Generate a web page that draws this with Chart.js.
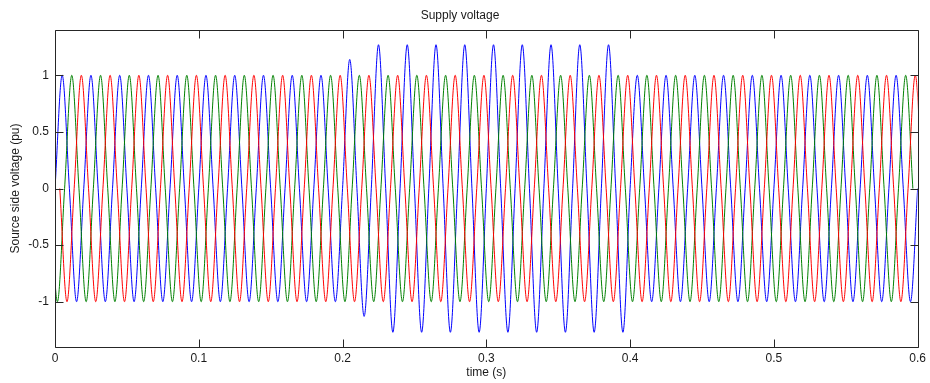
<!DOCTYPE html>
<html>
<head>
<meta charset="utf-8">
<title>Supply voltage</title>
<script src="https://cdn.jsdelivr.net/npm/chart.js@4.4.1/dist/chart.umd.min.js"></script>
<style>
  html, body { margin: 0; padding: 0; background: #ffffff; }
  #wrap { width: 930px; height: 383px; }
</style>
</head>
<body>
<div id="wrap"><canvas id="chart" width="930" height="383"></canvas></div>
<script>
// Axis ticks
const timeTicks = [0, 0.1, 0.2, 0.3, 0.4, 0.5, 0.6];
const voltageTicks = [-1, -0.5, 0, 0.5, 1];

// 50 Hz supply: one extremum every 10 ms
const halfCycle = 0.01;

// Time (s) of the first extremum of each phase
const firstPeakA = 0.005;
const firstPeakB = 0.00167;
const firstPeakC = 0.00833;

// Extremum of every half cycle (pu), phase A (blue) — swell between 0.2 s and 0.4 s
const phaseAPeaks = [
  1, -1, 1, -1, 1, -1, 1, -1, 1, -1,
  1, -1, 1, -1, 1, -1, 1, -1, 1, -1,
  1.14, -1.13, 1.27, -1.27, 1.27, -1.27, 1.27, -1.27, 1.27, -1.27,
  1.27, -1.27, 1.27, -1.27, 1.27, -1.27, 1.27, -1.27, 1.27, -1.27,
  1, -1, 1, -1, 1, -1, 1, -1, 1, -1,
  1, -1, 1, -1, 1, -1, 1, -1, 1, -1
];

// Phase B (green)
const phaseBPeaks = [
  -1, 1, -1, 1, -1, 1, -1, 1, -1, 1,
  -1, 1, -1, 1, -1, 1, -1, 1, -1, 1,
  -1, 1, -1, 1, -1, 1, -1, 1, -1, 1,
  -1, 1, -1, 1, -1, 1, -1, 1, -1, 1,
  -1, 1, -1, 1, -1, 1, -1, 1, -1, 1,
  -1, 1, -1, 1, -1, 1, -1, 1, -1, 1
];

// Phase C (red)
const phaseCPeaks = [
  -1, 1, -1, 1, -1, 1, -1, 1, -1, 1,
  -1, 1, -1, 1, -1, 1, -1, 1, -1, 1,
  -1, 1, -1, 1, -1, 1, -1, 1, -1, 1,
  -1, 1, -1, 1, -1, 1, -1, 1, -1, 1,
  -1, 1, -1, 1, -1, 1, -1, 1, -1, 1,
  -1, 1, -1, 1, -1, 1, -1, 1, -1, 1
];

// Waveform points: each extremum with the zero crossings on either side
function buildWave(peaks, firstPeak) {
  const pts = [{ x: firstPeak - halfCycle / 2, y: 0 }];
  peaks.forEach((v, k) => {
    const t = firstPeak + k * halfCycle;
    pts.push({ x: t, y: v });
    pts.push({ x: t + halfCycle / 2, y: 0 });
  });
  return pts;
}

const FONT = { family: "'Liberation Sans', Arial, sans-serif", size: 12, weight: 'normal' };
const TEXT = '#1a1a1a';
const TICK_LEN = 8;

// Axes box with inward ticks on all four sides
const framePlugin = {
  id: 'frame',
  afterDraw(chart) {
    const { ctx, chartArea: a, scales } = chart;
    const L = Math.round(a.left) + 0.5, R = Math.round(a.right) + 0.5;
    const T = Math.round(a.top) + 0.5, B = Math.round(a.bottom) + 0.5;
    ctx.save();
    ctx.strokeStyle = '#262626';
    ctx.lineWidth = 1;
    ctx.beginPath();
    ctx.rect(L, T, R - L, B - T);
    scales.x.ticks.forEach(tk => {
      const px = Math.round(scales.x.getPixelForValue(tk.value)) + 0.5;
      ctx.moveTo(px, B); ctx.lineTo(px, B - TICK_LEN);
      ctx.moveTo(px, T); ctx.lineTo(px, T + TICK_LEN);
    });
    scales.y.ticks.forEach(tk => {
      const py = Math.round(scales.y.getPixelForValue(tk.value)) + 0.5;
      ctx.moveTo(L, py); ctx.lineTo(L + TICK_LEN, py);
      ctx.moveTo(R, py); ctx.lineTo(R - TICK_LEN, py);
    });
    ctx.stroke();
    ctx.restore();
  }
};

new Chart(document.getElementById('chart'), {
  type: 'line',
  data: {
    datasets: [
      { label: 'Phase C', data: buildWave(phaseCPeaks, firstPeakC), borderColor: '#ff0000', order: 0 },
      { label: 'Phase B', data: buildWave(phaseBPeaks, firstPeakB), borderColor: '#008000', order: 1 },
      { label: 'Phase A', data: buildWave(phaseAPeaks, firstPeakA), borderColor: '#0000ff', order: 2 }
    ]
  },
  options: {
    responsive: false,
    animation: false,
    devicePixelRatio: 1,
    layout: { padding: { left: 0, right: 10, top: 0, bottom: 0 } },
    elements: {
      point: { radius: 0 },
      line: { borderWidth: 1, cubicInterpolationMode: 'monotone', fill: false }
    },
    plugins: {
      legend: { display: false },
      tooltip: { enabled: false },
      title: {
        display: true,
        text: 'Supply voltage',
        color: TEXT,
        font: FONT,
        padding: { top: 8, bottom: 7.6 }
      }
    },
    scales: {
      x: {
        type: 'linear',
        min: 0,
        max: 0.6,
        afterBuildTicks: s => { s.ticks = timeTicks.map(v => ({ value: v })); },
        afterFit: s => { s.height = 36; },
        grid: { display: false, drawTicks: false },
        border: { display: false },
        ticks: { padding: 4, color: TEXT, font: FONT, maxRotation: 0, callback: v => String(v) },
        title: { display: true, text: 'time (s)', color: TEXT, font: FONT, padding: { top: 0, bottom: 3 } }
      },
      y: {
        type: 'linear',
        min: -1.4,
        max: 1.4,
        afterBuildTicks: s => { s.ticks = voltageTicks.map(v => ({ value: v })); },
        afterFit: s => { s.width = 55; },
        grid: { display: false, drawTicks: false },
        border: { display: false },
        ticks: { padding: 6, color: TEXT, font: FONT, callback: v => String(v) },
        title: { display: true, text: 'Source side voltage (pu)', color: TEXT, font: FONT, padding: { top: 8, bottom: 0 } }
      }
    }
  },
  plugins: [framePlugin]
});
</script>
</body>
</html>
